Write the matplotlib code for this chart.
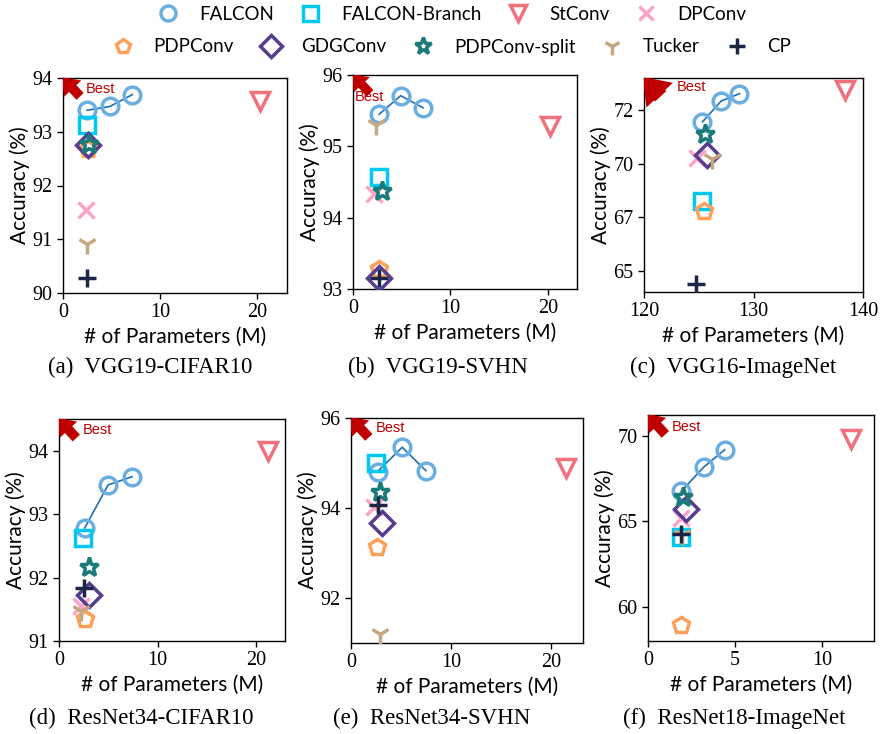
import numpy as np
import matplotlib
matplotlib.use("Agg")
import matplotlib.pyplot as plt
from matplotlib.lines import Line2D
from matplotlib.ticker import FixedLocator, FuncFormatter

# ── data, panel order: a..f ───────────────────────────────────
captions = ["(a)  VGG19-CIFAR10", "(b)  VGG19-SVHN", "(c)  VGG16-ImageNet",
            "(d)  ResNet34-CIFAR10", "(e)  ResNet34-SVHN", "(f)  ResNet18-ImageNet"]

falcon_x = [[2.48, 4.83, 7.14], [2.68, 4.90, 7.20], [125.34, 127.04, 128.72],
            [2.60, 4.97, 7.40], [2.66, 5.12, 7.49], [1.92, 3.20, 4.41]]
falcon_y = [[93.40, 93.47, 93.69], [95.45, 95.71, 95.54], [71.95, 72.92, 73.27],
            [92.78, 93.46, 93.59], [94.81, 95.35, 94.83], [66.75, 68.15, 69.17]]

branch_x = [2.48, 2.68, 125.34, 2.43, 2.53, 1.88]
branch_y = [93.13, 94.57, 68.27, 92.63, 95.00, 64.07]
stconv_x = [20.28, 20.24, 138.32, 21.18, 21.50, 11.69]
stconv_y = [93.57, 95.29, 73.44, 94.00, 94.88, 69.80]
dpconv_x = [2.41, 2.20, 124.80, 2.26, 2.33, 1.92]
dpconv_y = [91.55, 94.33, 70.25, 91.55, 94.03, 65.20]
pdp_x = [2.55, 2.68, 125.49, 2.60, 2.60, 1.88]
pdp_y = [92.67, 93.28, 67.77, 91.34, 93.14, 58.93]
gdg_x = [2.59, 2.68, 125.73, 3.04, 3.09, 2.16]
gdg_y = [92.745, 93.15, 70.39, 91.73, 93.67, 65.73]
split_x = [2.69, 3.00, 125.58, 3.00, 2.93, 2.01]
split_y = [92.78, 94.37, 71.36, 92.16, 94.36, 66.40]
tucker_x = [2.48, 2.40, 126.19, 2.26, 2.86, 1.98]
tucker_y = [90.91, 95.30, 70.23, 91.48, 91.20, 64.17]
cp_x = [2.48, 2.68, 124.76, 2.50, 2.66, 1.92]
cp_y = [90.27, 93.15, 64.38, 91.84, 94.07, 64.27]

xlims = [(0, 23.1), (0, 23.0), (120, 140), (0, 22.9), (0, 23.2), (0, 13.0)]
ylims = [(90, 94), (93, 96), (64, 74), (91, 94.5), (91, 96), (58, 71.2)]
xticks = [[0, 10, 20], [0, 10, 20], [120, 130, 140], [0, 10, 20], [0, 10, 20], [0, 5, 10]]
yticks = [[90, 91, 92, 93, 94], [93, 94, 95, 96], [65, 67.5, 70, 72.5],
          [91, 92, 93, 94], [92, 94, 96], [60, 65, 70]]

# ── layout (pixels in an 881x734 figure) ──────────────────────
W, H = 881, 734
AX_PX = [(63, 78, 224, 215), (353, 75, 224, 214), (644, 78, 219, 214),
         (59, 419, 226, 222), (351, 418, 232, 225), (648, 415, 226, 226)]
CAP_XY = [(150, 367), (438, 367), (733, 367), (141, 718), (432, 718), (734, 718)]
BEST_TXT = [(0.10, 0.95, "left"), (0.075, 0.895, "center"), (0.15, 0.96, "left"),
            (0.105, 0.951, "left"), (0.105, 0.956, "left"), (0.103, 0.948, "left")]
ARROW_SCALE = [13, 12, 20, 13, 13, 13]

RED = "#c00000"
STYLES = {
    "FALCON":        dict(marker="o", color="#6aaee2", ms=12),
    "FALCON-Branch": dict(marker="s", color="#00c8f0", ms=12),
    "StConv":        dict(marker="v", color="#f0707c", ms=13),
    "DPConv":        dict(marker="x", color="#ffa2c6", ms=11),
    "PDPConv":       dict(marker="p", color="#ffa05a", ms=12),
    "GDGConv":       dict(marker="D", color="#553c8e", ms=12),
    "PDPConv-split": dict(marker="*", color="#1b7b78", ms=14),
    "Tucker":        dict(marker="1", color="#c4a882", ms=14),
    "CP":            dict(marker="+", color="#1c2546", ms=13),
}

plt.rcParams["font.family"] = "Liberation Serif"
LABEL_FONT = "Lato"


def draw(ax, name, xs, ys, **kw):
    st = STYLES[name]
    ax.plot(xs, ys, linestyle="none", marker=st["marker"], ms=st["ms"],
            mec=st["color"], mfc="none", mew=2.5, **kw)


fig = plt.figure(figsize=(W / 100, H / 100), dpi=100)

for i in range(6):
    l, t, w, h = AX_PX[i]
    ax = fig.add_axes([l / W, 1 - (t + h) / H, w / W, h / H])

    ax.plot(falcon_x[i], falcon_y[i], color="#1f6fb4", lw=1.2, zorder=2)
    draw(ax, "FALCON", falcon_x[i], falcon_y[i], zorder=3)
    draw(ax, "FALCON-Branch", [branch_x[i]], [branch_y[i]], zorder=4)
    draw(ax, "StConv", [stconv_x[i]], [stconv_y[i]], zorder=4)
    draw(ax, "DPConv", [dpconv_x[i]], [dpconv_y[i]], zorder=4)
    draw(ax, "PDPConv", [pdp_x[i]], [pdp_y[i]], zorder=4)
    draw(ax, "GDGConv", [gdg_x[i]], [gdg_y[i]], zorder=4)
    draw(ax, "PDPConv-split", [split_x[i]], [split_y[i]], zorder=4)
    draw(ax, "Tucker", [tucker_x[i]], [tucker_y[i]], zorder=4)
    draw(ax, "CP", [cp_x[i]], [cp_y[i]], zorder=4)

    ax.set_xlim(*xlims[i])
    ax.set_ylim(*ylims[i])
    ax.xaxis.set_major_locator(FixedLocator(xticks[i]))
    ax.yaxis.set_major_locator(FixedLocator(yticks[i]))
    ax.yaxis.set_major_formatter(FuncFormatter(lambda v, p: "%d" % v))
    ax.tick_params(labelsize=14.5, length=4, width=1)
    for sp in ax.spines.values():
        sp.set_linewidth(1.0)

    ax.set_xlabel("# of Parameters (M)", family=LABEL_FONT, fontsize=15, labelpad=3)
    ax.set_ylabel("Accuracy (%)", family=LABEL_FONT, fontsize=15, labelpad=2)

    # "Best" arrow into the top-left corner, clipped by the axes
    ann = ax.annotate("", xy=(-0.015, 1.015), xytext=(0.085, 0.905),
                      xycoords="axes fraction", textcoords="axes fraction",
                      arrowprops=dict(arrowstyle="simple,head_width=1.3,head_length=0.9,tail_width=0.55",
                                      mutation_scale=ARROW_SCALE[i], color=RED, lw=0))
    ann.arrow_patch.set_clip_on(True)
    ann.arrow_patch.set_clip_box(ax.bbox)
    bx, by, ha = BEST_TXT[i]
    ax.text(bx, by, "Best", transform=ax.transAxes, color=RED, fontsize=10.5,
            family="Liberation Sans", ha=ha, va="center")

    cx, cy = CAP_XY[i]
    fig.text(cx / W, 1 - cy / H, captions[i], ha="center", va="center", fontsize=16.5)

# ── legend (two rows) ─────────────────────────────────────────
def handle(name):
    st = STYLES[name]
    return Line2D([], [], linestyle="none", marker=st["marker"], ms=st["ms"] * 0.9,
                  mec=st["color"], mfc="none", mew=2.5, label=name)

row1 = ["FALCON", "FALCON-Branch", "StConv", "DPConv"]
row2 = ["PDPConv", "GDGConv", "PDPConv-split", "Tucker", "CP"]
leg_kw = dict(loc="center", frameon=False, handletextpad=0.9, columnspacing=1.2,
              handlelength=1.5, prop=dict(family=LABEL_FONT, size=13.5), borderaxespad=0)
fig.legend(handles=[handle(n) for n in row1], ncol=4,
           bbox_to_anchor=(450 / W, 1 - 14 / H), **leg_kw)
fig.legend(handles=[handle(n) for n in row2], ncol=5,
           bbox_to_anchor=(450 / W, 1 - 47 / H), **leg_kw)

fig.savefig("out.png", dpi=100)
